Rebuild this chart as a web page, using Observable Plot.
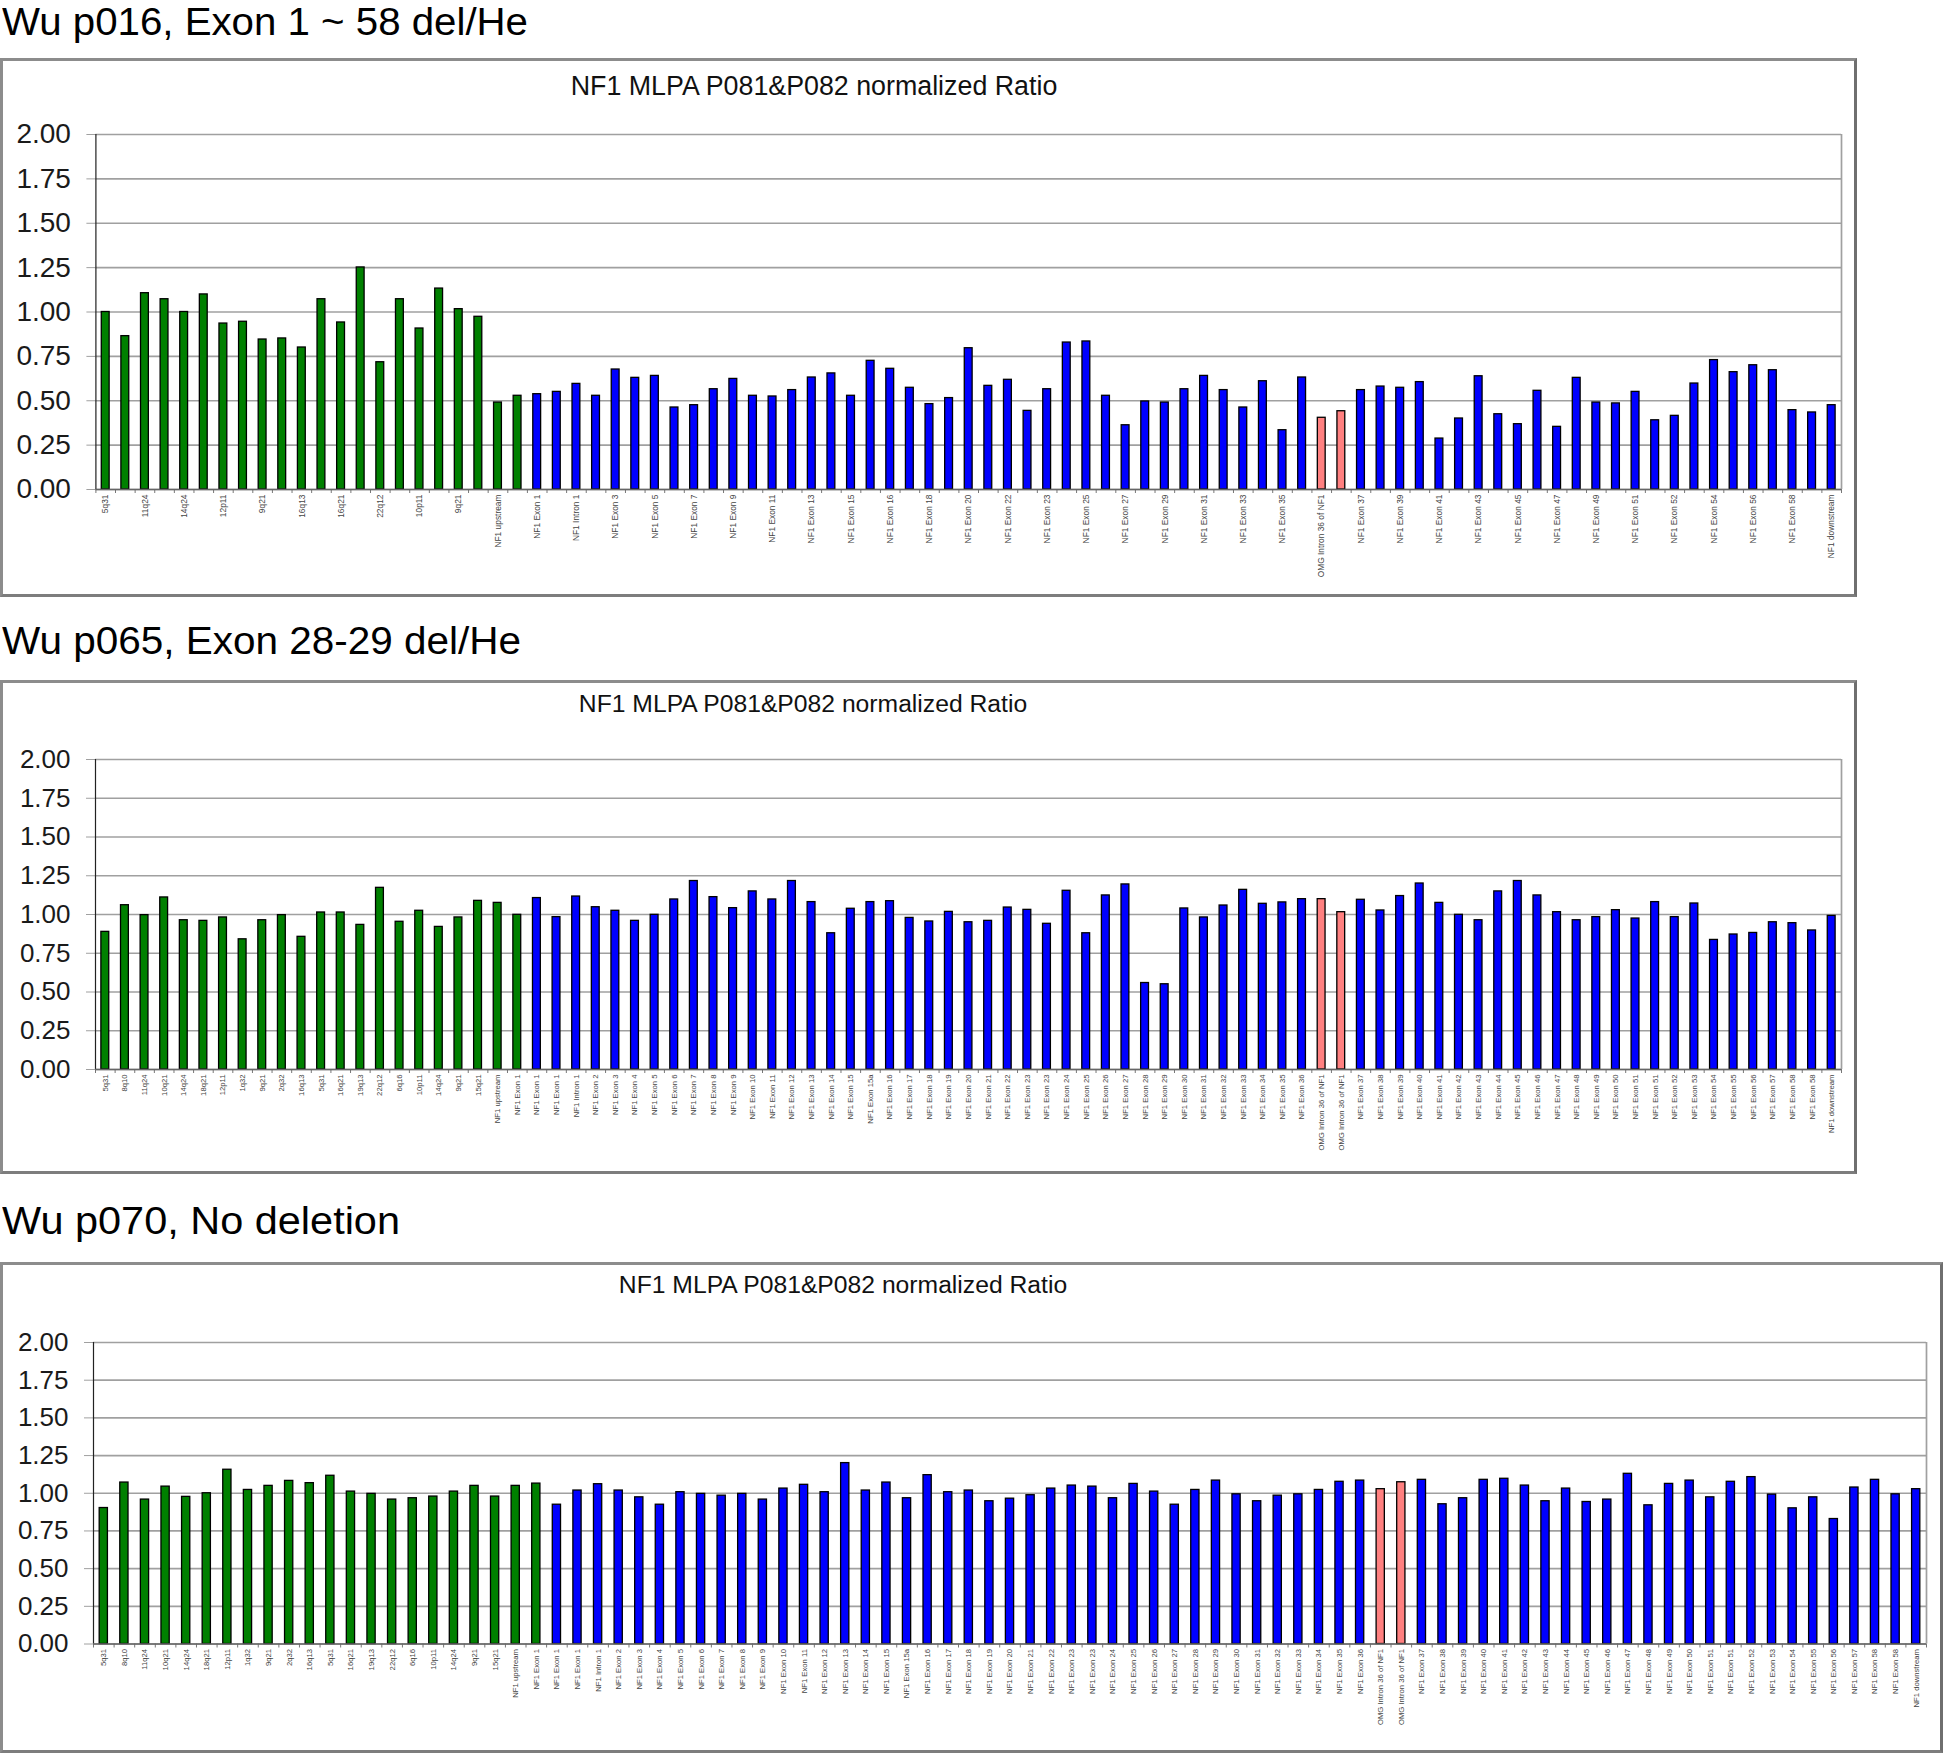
<!DOCTYPE html>
<html>
<head>
<meta charset="utf-8">
<script src="https://cdn.jsdelivr.net/npm/d3@7"></script>
<script src="https://cdn.jsdelivr.net/npm/@observablehq/plot@0.6"></script>
<style>
html,body{margin:0;padding:0;background:#fff;}
body{position:relative;width:1945px;height:1757px;overflow:hidden;}
.h{position:absolute;left:2px;font-family:"Liberation Sans",Arial,sans-serif;font-size:38px;line-height:1;white-space:nowrap;transform-origin:0 0;color:#000;}
.box{position:absolute;box-sizing:border-box;border:3px solid #8c8c8c;border-right-color:#6f6f6f;border-bottom-color:#7d7d7d;background:#fff;}
.t{position:absolute;font-family:"Liberation Sans",Arial,sans-serif;line-height:1;white-space:nowrap;color:#111;transform:translateX(-50%);}
.c{position:absolute;left:0;}
</style>
</head>
<body>
<script>
// ---------- data ----------
const probeLabels = ["5q31","8q10","11q24","10q21","14q24","18q21","12p11","1q32","9q21","2q32","16q13","5q31","16q21","19q13","22q12","6q16","10p11","14q24","9q21","15q21","NF1 upstream","NF1 Exon 1","NF1 Exon 1","NF1 Exon 1","NF1 Intron 1","NF1 Exon 2","NF1 Exon 3","NF1 Exon 4","NF1 Exon 5","NF1 Exon 6","NF1 Exon 7","NF1 Exon 8","NF1 Exon 9","NF1 Exon 10","NF1 Exon 11","NF1 Exon 12","NF1 Exon 13","NF1 Exon 14","NF1 Exon 15","NF1 Exon 15a","NF1 Exon 16","NF1 Exon 17","NF1 Exon 18","NF1 Exon 19","NF1 Exon 20","NF1 Exon 21","NF1 Exon 22","NF1 Exon 23","NF1 Exon 23","NF1 Exon 24","NF1 Exon 25","NF1 Exon 26","NF1 Exon 27","NF1 Exon 28","NF1 Exon 29","NF1 Exon 30","NF1 Exon 31","NF1 Exon 32","NF1 Exon 33","NF1 Exon 34","NF1 Exon 35","NF1 Exon 36","OMG Intron 36 of NF1","OMG Intron 36 of NF1","NF1 Exon 37","NF1 Exon 38","NF1 Exon 39","NF1 Exon 40","NF1 Exon 41","NF1 Exon 42","NF1 Exon 43","NF1 Exon 44","NF1 Exon 45","NF1 Exon 46","NF1 Exon 47","NF1 Exon 48","NF1 Exon 49","NF1 Exon 50","NF1 Exon 51","NF1 Exon 51","NF1 Exon 52","NF1 Exon 53","NF1 Exon 54","NF1 Exon 55","NF1 Exon 56","NF1 Exon 57","NF1 Exon 58","NF1 Exon 58","NF1 downstream"];

const probeGroups = [
  "ref","ref","ref","ref","ref","ref","ref","ref","ref","ref","ref","ref","ref","ref","ref","ref","ref","ref","ref","ref","ref","ref",
  "NF1","NF1","NF1","NF1","NF1","NF1","NF1","NF1","NF1","NF1","NF1","NF1","NF1","NF1","NF1","NF1","NF1","NF1","NF1","NF1",
  "NF1","NF1","NF1","NF1","NF1","NF1","NF1","NF1","NF1","NF1","NF1","NF1","NF1","NF1","NF1","NF1","NF1","NF1","NF1","NF1",
  "OMG","OMG",
  "NF1","NF1","NF1","NF1","NF1","NF1","NF1","NF1","NF1","NF1","NF1","NF1","NF1","NF1","NF1","NF1","NF1","NF1","NF1","NF1",
  "NF1","NF1","NF1","NF1","NF1"];

const ratioP016 = [1.00,0.864,1.106,1.072,1.00,1.099,0.935,0.945,0.845,0.851,0.80,1.072,0.941,1.251,0.717,1.072,0.907,1.132,1.016,0.973,
  0.49,0.528,0.537,0.55,0.595,0.528,0.676,0.629,
  0.64,0.462,0.475,0.565,0.623,0.528,0.524,0.56,0.631,0.654,0.528,0.725,0.68,0.573,0.481,0.515,0.796,0.584,0.618,0.443,0.565,0.828,0.834,0.528,0.362,0.496,0.49,0.565,0.64,0.56,0.462,0.61,0.334,0.631,
  0.404,0.441,0.56,0.58,0.573,0.605,0.287,0.40,0.638,0.424,0.368,0.556,0.353,0.629,0.49,0.485,0.55,0.39,0.415,0.597,0.729,0.661,0.70,0.672,0.447,0.434,0.475];

const ratioP065 = [0.888,1.06,0.996,1.11,0.963,0.959,0.981,0.84,0.963,0.996,0.856,1.013,1.013,0.933,1.172,0.953,1.024,0.92,0.981,1.088,1.075,0.998,1.106,0.983,1.116,1.047,1.024,0.959,0.998,
  1.097,1.216,1.112,1.041,1.149,1.097,1.216,1.08,0.879,1.037,1.08,1.086,0.978,0.955,1.017,0.95,0.959,1.045,1.03,0.94,1.153,0.879,1.123,1.194,0.558,0.55,1.039,0.981,1.058,1.159,1.069,1.078,1.099,
  1.099,1.015,1.095,1.026,1.119,1.20,1.075,0.998,0.963,1.149,1.216,1.123,1.015,0.963,0.983,1.028,0.974,1.08,0.983,1.071,0.836,0.871,0.881,0.95,0.944,0.897,0.991];

const ratioP070 = [0.902,1.071,0.958,1.044,0.976,1.00,1.156,1.022,1.049,1.082,1.067,1.116,1.011,0.996,0.958,0.967,0.978,1.011,1.049,0.978,1.049,1.064,0.924,1.018,1.06,1.018,0.973,
  0.924,1.007,0.996,0.984,0.996,0.958,1.031,1.056,1.007,1.20,1.018,1.071,0.967,1.12,1.007,1.018,0.947,0.964,0.987,1.031,1.051,1.044,0.967,1.062,1.011,0.924,1.022,1.084,0.993,0.947,0.984,0.993,
  1.022,1.076,1.084,1.027,1.073,1.089,0.927,0.967,1.089,1.096,1.051,0.947,1.031,0.942,0.958,1.129,0.92,1.062,1.084,0.973,1.076,1.107,0.991,0.90,0.973,0.829,1.038,1.089,0.993,1.027];

const yTicks = [0,0.25,0.5,0.75,1,1.25,1.5,1.75,2];
const headings = ["Wu p016, Exon 1 ~ 58 del/He","Wu p065, Exon 28-29 del/He","Wu p070, No deletion"];
const chartTitle = "NF1 MLPA P081&P082 normalized Ratio";
const groupColors = {domain:["ref","NF1","OMG"], range:["#008000","#0000ff","#ff8080"]};

// ---------- layout ----------
const panels = [
  {values: ratioP016, head: headings[0], base: 35, headW: 526,
   box:{x:0,y:58,w:1857,h:539}, title:{cx:814,cy:86,fs:26.8},
   ml:95.4, mr:16, yTop:134, yZero:489, yFont:28, xFont:8.4, everyOther:true},
  {values: ratioP065, head: headings[1], base: 654, headW: 519,
   box:{x:0,y:680,w:1857,h:494}, title:{cx:803,cy:704.5,fs:24.7},
   ml:95, mr:16, yTop:759, yZero:1069, yFont:26, xFont:7.7, everyOther:false},
  {values: ratioP070, head: headings[2], base: 1234.5, headW: 398,
   box:{x:0,y:1262,w:1943,h:491}, title:{cx:843,cy:1285,fs:24.7},
   ml:93, mr:17, yTop:1342, yZero:1643.5, yFont:26, xFont:7.7, everyOther:false}
];

const n = probeLabels.length;
const barHalf = 0.2;

for (const p of panels) {
  // heading (Liberation Sans: baseline sits 0.8465em below the top of a line-height:1 box)
  const h = document.createElement("div");
  h.className = "h";
  h.textContent = p.head;
  document.body.appendChild(h);
  h.style.top = (p.base - 0.8465*38) + "px";
  const hw = h.getBoundingClientRect().width;
  h.style.transform = `scaleX(${p.headW / hw})`;

  // box
  const b = document.createElement("div");
  b.className = "box";
  Object.assign(b.style, {left:p.box.x+"px", top:p.box.y+"px", width:p.box.w+"px", height:p.box.h+"px"});
  document.body.appendChild(b);

  // chart title
  const t = document.createElement("div");
  t.className = "t";
  t.textContent = chartTitle;
  Object.assign(t.style, {left:p.title.cx+"px", top:(p.title.cy - 0.49*p.title.fs)+"px", fontSize:p.title.fs+"px"});
  document.body.appendChild(t);

  const data = p.values.map((v,i)=>({i, v, g: probeGroups[i]}));
  const xTicks = d3.range(n).filter(i => !p.everyOther || i % 2 === 0).map(i => i + 0.5);
  const pxPerUnit = (p.yZero - p.yTop) / 2;

  const chart = Plot.plot({
    width: p.box.w,
    height: p.box.h,
    marginTop: p.yTop - p.box.y,
    marginBottom: p.box.y + p.box.h - p.yZero,
    marginLeft: p.ml,
    marginRight: p.mr,
    style: {fontFamily: "'Liberation Sans', Arial, sans-serif", background: "none", overflow: "visible"},
    x: {domain: [0, n]},
    y: {domain: [0, 2]},
    color: groupColors,
    marks: [
      Plot.gridY(yTicks, {stroke: "#a0a0a0", strokeOpacity: 1, strokeWidth: 1.7}),
      Plot.axisY(yTicks, {tickSize: 9, tickPadding: 16, tickFormat: d3.format(".2f"), fontSize: p.yFont, stroke: "#a0a0a0", fill: "#1a1a1a", label: null}),
      Plot.ruleX([n], {y1: 0, y2: 2, stroke: "#a0a0a0", strokeWidth: 1.7}),
      Plot.ruleX(d3.range(n + 1), {y1: 0, y2: -4 / pxPerUnit, stroke: "#777", strokeWidth: 1}),
      Plot.rect(data, {x1: d => d.i + 0.5 - barHalf, x2: d => d.i + 0.5 + barHalf, y1: 0, y2: "v", fill: "g", stroke: "#000", strokeWidth: 1.3}),
      Plot.ruleX([0], {y1: 0, y2: 2, stroke: "#222", strokeWidth: 1.2}),
      Plot.ruleY([0], {stroke: "#666", strokeWidth: 1.5}),
      Plot.axisX(xTicks, {tickFormat: d => probeLabels[d - 0.5], tickRotate: -90, tickSize: 0, tickPadding: 5, fontSize: p.xFont, fill: "#444", label: null})
    ]
  });
  const wrap = document.createElement("div");
  wrap.className = "c";
  wrap.style.top = p.box.y + "px";
  wrap.appendChild(chart);
  document.body.appendChild(wrap);
}
</script>
</body>
</html>
